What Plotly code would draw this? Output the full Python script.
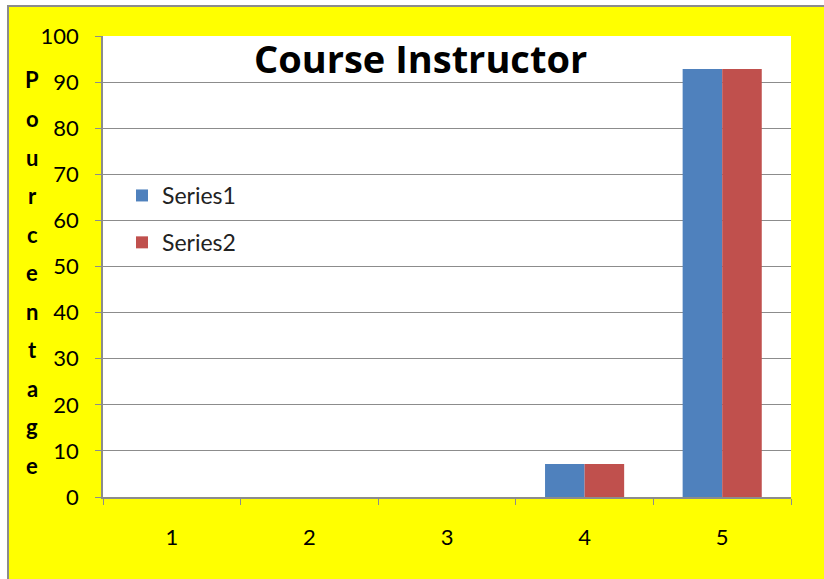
import plotly.graph_objects as go

categories = ["1", "2", "3", "4", "5"]
series1 = [0, 0, 0, 7.14, 92.86]
series2 = [0, 0, 0, 7.14, 92.86]
series_names = ["Series1", "Series2"]
colors = ["#4F81BD", "#C0504D"]
title_text = "Course Instructor"
y_label = "Pourcentage"

W, H = 824, 579
L, R, T, B = 103, 33, 36, 82
pw, ph = W - L - R, H - T - B

def px_to_paper_x(x):
    return (x - L) / pw

def px_to_paper_y(y):
    return (H - B - y) / ph

FONT = "Lato"

fig = go.Figure()
for i, (name, vals) in enumerate(zip(series_names, [series1, series2])):
    fig.add_trace(go.Bar(x=categories, y=vals, name=name, marker_color=colors[i],
                         marker_line_width=0, legendgroup=name))

annotations = [dict(text="<b>" + title_text + "</b>", x=px_to_paper_x(420), y=px_to_paper_y(58),
                    xref="paper", yref="paper", showarrow=False,
                    font=dict(family="Open Sans", size=38, color="black"), xanchor="center", yanchor="middle")]
for k, ch in enumerate(y_label):
    annotations.append(dict(text="<b>" + ch + "</b>", x=px_to_paper_x(32), y=px_to_paper_y(80 + 38.5 * k),
                            xref="paper", yref="paper", showarrow=False,
                            font=dict(family=FONT, size=22, color="black"), xanchor="center", yanchor="middle"))

shapes = [
    dict(type="rect", xref="paper", yref="paper", x0=px_to_paper_x(8), x1=px_to_paper_x(W + 20),
         y0=px_to_paper_y(H + 20), y1=px_to_paper_y(6), fillcolor="#FFFF00",
         line=dict(color="#8c8c8c", width=2), layer="below"),
    dict(type="rect", xref="paper", yref="paper", x0=0, x1=1, y0=0, y1=1,
         fillcolor="white", line=dict(width=0), layer="below"),
]

fig.update_layout(
    width=W, height=H,
    margin=dict(l=L, r=R, t=T, b=B),
    paper_bgcolor="white",
    plot_bgcolor="rgba(0,0,0,0)",
    barmode="group", bargap=0.425, bargroupgap=0,
    font=dict(family=FONT, size=22, color="black"),
    showlegend=True,
    legend=dict(x=px_to_paper_x(122), y=px_to_paper_y(174), xanchor="left", yanchor="top",
                bgcolor="rgba(0,0,0,0)", tracegroupgap=14, font=dict(size=23, family=FONT, color="#222"),
                itemwidth=30),
    annotations=annotations,
    shapes=shapes,
    xaxis=dict(type="category", tickson="boundaries", ticks="outside", ticklen=6, tickcolor="#8c8c8c",
               showline=True, linecolor="#8c8c8c", linewidth=1.5, showgrid=False,
               tickfont=dict(size=22, family=FONT), ticklabelstandoff=20),
    yaxis=dict(range=[0, 100], dtick=10, ticks="outside", ticklen=6, tickcolor="#8c8c8c",
               showline=True, linecolor="#8c8c8c", linewidth=1.5, showgrid=True, gridcolor="#8c8c8c",
               gridwidth=1, zeroline=False, tickfont=dict(size=22, family=FONT), ticklabelstandoff=12),
)

fig.write_html("out.html", config={"displayModeBar": False},
               post_script="document.body.style.margin='0';document.body.style.overflow='hidden';")
